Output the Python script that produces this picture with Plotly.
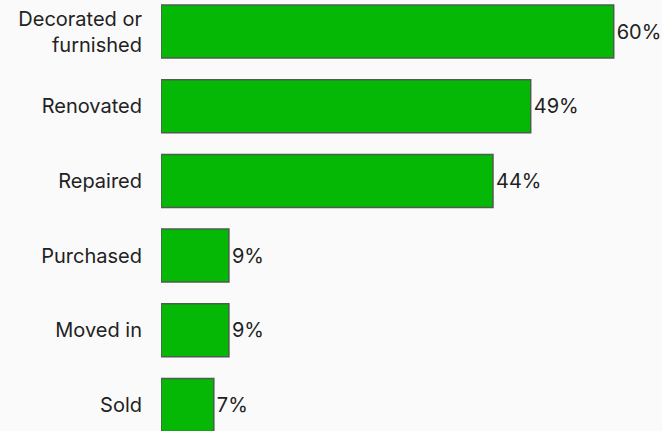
import plotly.graph_objects as go

categories = ["Decorated or<br>furnished", "Renovated", "Repaired", "Purchased", "Moved in", "Sold"]
values = [60, 49, 44, 9, 9, 7]
labels = [f"{v}%" for v in values]

fig = go.Figure(
    go.Bar(
        x=values,
        y=categories,
        orientation="h",
        text=labels,
        textposition="outside",
        cliponaxis=False,
        marker=dict(color="#05b805", line=dict(color="#4d5e4d", width=1.5)),
        textfont=dict(color="#222222", size=20),
    )
)

fig.update_layout(
    width=662,
    height=431,
    margin=dict(l=161, r=0, t=0, b=0),
    paper_bgcolor="#fafafa",
    plot_bgcolor="#fafafa",
    bargap=0.29,
    showlegend=False,
    font=dict(family="Inter", size=20, color="#222222"),
    uniformtext=dict(minsize=20, mode="show"),
)
fig.update_xaxes(range=[0, 66.4], visible=False, showgrid=False)
fig.update_yaxes(
    categoryorder="array",
    categoryarray=categories,
    range=[5.348, -0.4217],
    showgrid=False,
    zeroline=False,
    showline=False,
    ticks="",
    ticklabelstandoff=18,
    automargin=False,
    tickfont=dict(size=20, color="#222222"),
)

fig.write_html("out.html")
